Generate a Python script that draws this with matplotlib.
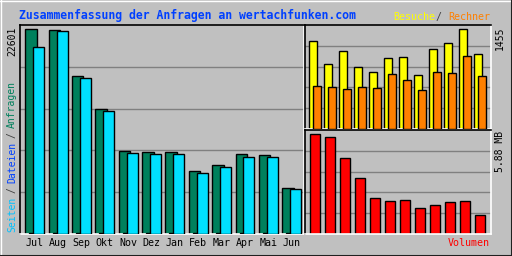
import matplotlib
matplotlib.use("Agg")
import matplotlib.pyplot as plt
from matplotlib.lines import Line2D

# monthly data, Jul .. Jun
months = ["Jul", "Aug", "Sep", "Okt", "Nov", "Dez", "Jan", "Feb", "Mar", "Apr", "Mai", "Jun"]
anfragen = [22601, 22490, 17412, 13768, 9131, 9020, 9020, 6923, 7585, 8800, 8689, 5046]
dateien = [90, 90, 90, 90, 90, 90, 90, 90, 90, 90, 90, 90]
seiten = [20614, 22380, 17191, 13547, 8910, 8800, 8800, 6702, 7364, 8468, 8468, 4935]
besuche = [1280, 949, 1134, 900, 827, 1032, 1046, 784, 1163, 1251, 1455, 1095]
rechner = [623, 609, 579, 609, 594, 798, 711, 565, 827, 813, 1061, 769]
volumen_mb = [5.88, 5.70, 4.50, 3.31, 2.11, 1.93, 1.99, 1.51, 1.69, 1.87, 1.93, 1.15]

BG = "#c0c0c0"
W, H = 512, 256
MONO = "DejaVu Sans Mono"

fig = plt.figure(figsize=(W / 100, H / 100), dpi=100, facecolor=BG)


def px_axes(x0, y0, x1, y1):
    """axes from pixel box (top-left origin)"""
    ax = fig.add_axes([x0 / W, 1 - y1 / H, (x1 - x0) / W, (y1 - y0) / H])
    ax.set_facecolor(BG)
    ax.set_xticks([])
    ax.set_yticks([])
    for side in ("top", "left"):
        ax.spines[side].set_color("black")
    for side in ("bottom", "right"):
        ax.spines[side].set_color("white")
    for sp in ax.spines.values():
        sp.set_linewidth(1.2)
    return ax


def grid(ax, ymax):
    for f in (0.2, 0.4, 0.6, 0.8):
        ax.axhline(f * ymax, color="#808080", lw=1, zorder=0)


n = len(months)
idx = list(range(n))

# main panel: requests
ax = px_axes(20, 25, 304, 234)
ymax = max(anfragen) * 209 / 204.7
grid(ax, ymax)
ax.bar([i - 0.4 for i in idx], anfragen, width=0.49, align="edge",
       color="#00805c", edgecolor="black", lw=1, zorder=2)
ax.bar([i - 0.23 for i in idx], dateien, width=0.47, align="edge",
       color="#0040ff", edgecolor="black", lw=1, zorder=3)
ax.bar([i - 0.06 for i in idx], seiten, width=0.47, align="edge",
       color="#00e0ff", edgecolor="black", lw=1, zorder=4)
ax.set_xlim(-0.627, 11.53)
ax.set_ylim(0, ymax)

# top right: visits / sites
ax2 = px_axes(305, 25, 491, 129)
ymax2 = max(besuche) * 104 / 99.7
grid(ax2, ymax2)
ax2.bar([i - 0.4 for i in idx], besuche, width=0.5, align="edge",
        color="#ffff00", edgecolor="black", lw=1, zorder=2)
ax2.bar([i - 0.133 for i in idx], rechner, width=0.5, align="edge",
        color="#ff8000", edgecolor="black", lw=1, zorder=3)
ax2.set_xlim(-0.687, 11.713)
ax2.set_ylim(0, ymax2)

# bottom right: volume
ax3 = px_axes(305, 130, 491, 234)
ymax3 = max(volumen_mb) * 104 / 99.7
grid(ax3, ymax3)
ax3.bar([i - 0.333 for i in idx], volumen_mb, width=0.63, align="edge",
        color="#ff0000", edgecolor="black", lw=1, zorder=2)
ax3.set_xlim(-0.687, 11.713)
ax3.set_ylim(0, ymax3)

# month labels
for i, m in enumerate(months):
    x_px = 20 + (i + 0.627) * 23.36
    fig.text(x_px / W, 1 - 243 / H, m, ha="center", va="center",
             family=MONO, fontsize=7.2, color="black")

# titles and labels
fig.text(19 / W, 1 - 15 / H, "Zusammenfassung der Anfragen an wertachfunken.com",
         ha="left", va="center", family=MONO, fontsize=8.3,
         fontweight="bold", color="#0040ff")

small = dict(family=MONO, fontsize=7.2, va="center", ha="left")
fig.text(393 / W, 1 - 17 / H, "Besuche", color="#ffff00", **small)
fig.text(436 / W, 1 - 17 / H, "/", color="#404040", **small)
fig.text(448 / W, 1 - 17 / H, "Rechner", color="#ff8000", **small)
fig.text(448 / W, 1 - 243 / H, "Volumen", color="#ff0000", **small)

vert = dict(family=MONO, fontsize=7.0, rotation=90, ha="center")
fig.text(12 / W, 1 - 27 / H, str(max(anfragen)), va="top", color="black", **vert)
fig.text(500 / W, 1 - 27 / H, str(max(besuche)), va="top", color="black", **vert)
fig.text(500 / W, 1 - 131 / H, "%.2f MB" % max(volumen_mb), va="top", color="black", **vert)

# vertical legend, stacked bottom up using measured extents
renderer = fig.canvas.get_renderer()
y = 232
for s, c in [("Seiten", "#00c0ff"), ("/", "#404040"),
             ("Dateien", "#0040ff"), ("/", "#404040"), ("Anfragen", "#00805c")]:
    t = fig.text(12 / W, 1 - y / H, s, va="bottom", color=c, **vert)
    h = t.get_window_extent(renderer).height
    y -= h + 4.0

# outer 3D frame
fig.add_artist(Line2D([0, 1], [1 - 0.5 / H, 1 - 0.5 / H], color="white", lw=1))
fig.add_artist(Line2D([0.5 / W, 0.5 / W], [0, 1], color="white", lw=1))
fig.add_artist(Line2D([0, 1], [0.5 / H, 0.5 / H], color="#202020", lw=1.5))
fig.add_artist(Line2D([1 - 0.5 / W, 1 - 0.5 / W], [0, 1], color="#202020", lw=1.5))

fig.savefig("out.png", dpi=100, facecolor=BG)
